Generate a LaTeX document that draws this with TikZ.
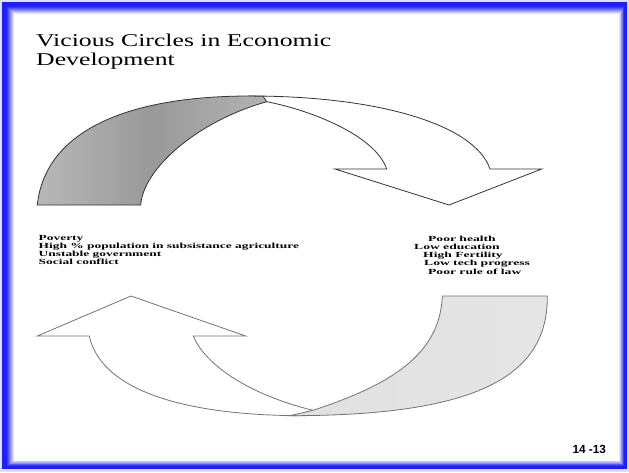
\documentclass[tikz,border=0pt]{standalone}
\usepackage{fontspec}
\usepackage{graphicx}
\setmainfont{Liberation Serif}
\newfontfamily\arialf{Liberation Sans}
\definecolor{frameblue}{RGB}{30,30,255}
\definecolor{lav}{RGB}{222,222,255}
\tikzset{
  titletxt/.style={anchor=base west, inner sep=0pt, font=\fontsize{18}{18}\selectfont},
  listtxt/.style={anchor=base west, inner sep=0pt, font=\fontsize{7.8}{8}\selectfont\bfseries},
  pagetxt/.style={anchor=base west, inner sep=0pt, font=\arialf\bfseries\fontsize{11.8}{12}\selectfont},
  topline/.style={draw=black!80, line width=0.8pt, line join=miter},
  botline/.style={draw=black!55, line width=0.8pt, line join=miter},
}
\begin{document}
\begin{tikzpicture}[x=1pt,y=-1pt]
\useasboundingbox (0,0) rectangle (629,472);
% frame
\fill[lav] (0,0) rectangle (629,472);
\fill[white] (13,13) rectangle (619,461);
\foreach \k in {0,...,12}{
  \pgfmathsetmacro{\p}{\k<=4 ? 100 : 100-(\k-4)*12.5}
  \pgfmathsetmacro{\l}{2.5+\k}
  \pgfmathsetmacro{\r}{626.5-0.65*\k}
  \pgfmathsetmacro{\b}{468.5-0.7*\k}
  \draw[line width=1.3pt, frameblue!\p!white] (\l,\l) rectangle (\r,\b);
}
% title
\node[titletxt] (t1) at (36,46.7) {\scalebox{1.43}[1]{Vicious Circles in Economic}};
\node[titletxt] (t2) at (36,65) {\scalebox{1.43}[1]{Development}};
% top arrow: white part
\path[topline, fill=white]
  (250,96) .. controls (380,96) and (475,125) .. (490,169)
  -- (541.7,169) -- (449,205) -- (335,169) -- (386.7,169)
  .. controls (375,135) and (310,110) .. (266.7,101.7)
  -- cycle;
% top arrow: shaded part
\path[topline, left color=black!28, right color=black!30, middle color=black!40]
  (37.3,205) .. controls (45,132) and (125,96) .. (250,96)
  -- (263,96.3) -- (266.7,101.7)
  .. controls (195,122) and (143,170) .. (140.7,205)
  -- cycle;
% bottom arrow: white part
\path[botline, fill=white]
  (131,296) -- (245.7,336) -- (193.3,336)
  .. controls (205,365) and (250,395) .. (313,410.3)
  -- (300,415.7)
  .. controls (170,415) and (100,385) .. (89.3,336)
  -- (37.3,336) -- cycle;
% bottom arrow: shaded part
\path[botline, left color=black!12, right color=black!10]
  (442.3,296) -- (547.3,296)
  .. controls (548,375) and (480,415.7) .. (290,415.7)
  -- (313,410.3)
  .. controls (390,385) and (440,355) .. (442.3,296)
  -- cycle;
% left list
\node[listtxt] (l1) at (38.5,240.6) {\scalebox{1.72}[1]{Poverty}};
\node[listtxt] (l2) at (38.5,248.7) {\scalebox{1.72}[1]{High \% population in subsistance agriculture}};
\node[listtxt] (l3) at (38.5,256.8) {\scalebox{1.72}[1]{Unstable government}};
\node[listtxt] (l4) at (38.5,264.9) {\scalebox{1.72}[1]{Social conflict}};
% right list
\node[listtxt] (r1) at (428,241.6) {\scalebox{1.74}[1]{Poor health}};
\node[listtxt] (r2) at (414,249.7) {\scalebox{1.74}[1]{Low education}};
\node[listtxt] (r3) at (423,257.8) {\scalebox{1.74}[1]{High Fertility}};
\node[listtxt] (r4) at (424,265.9) {\scalebox{1.74}[1]{Low tech progress}};
\node[listtxt] (r5) at (428,274.0) {\scalebox{1.74}[1]{Poor rule of law}};
% page number
\node[pagetxt] (pg) at (572.3,453.3) {14 -13};
\end{tikzpicture}
\end{document}
